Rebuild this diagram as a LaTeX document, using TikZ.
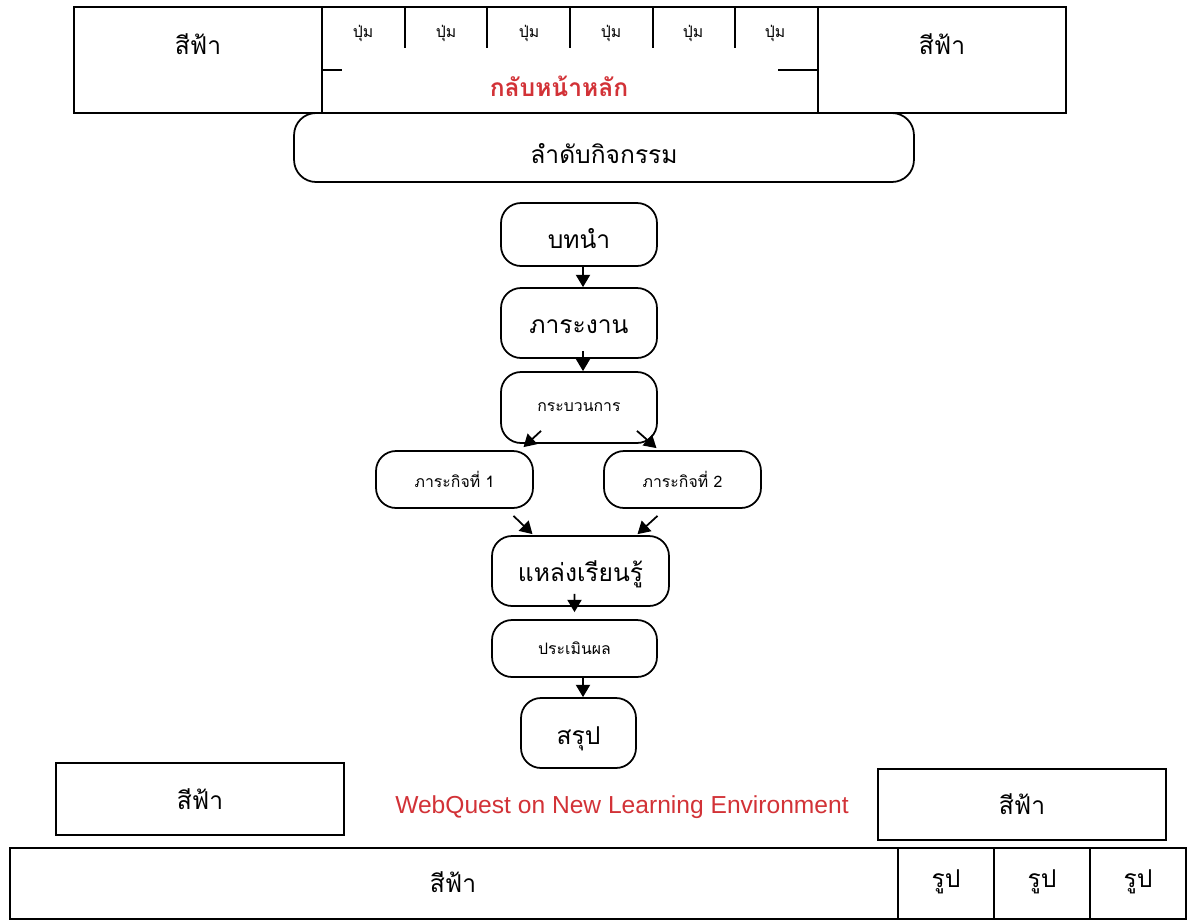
\documentclass[tikz,border=0pt]{standalone}
\usepackage{fontspec}
\setmainfont{Liberation Sans}
\newfontfamily\thai[Script=Thai]{Loma}
\usetikzlibrary{arrows.meta}
\definecolor{webred}{RGB}{210,50,55}
\tikzset{
every picture/.style={
line width=1pt
}}
\tikzset{
big/.style={font=\thai\fontsize{14}{16}\selectfont, inner sep=0pt},
small/.style={font=\thai\fontsize{9}{11}\selectfont, inner sep=0pt},
stage/.style={draw, rounded corners=0.4cm, inner sep=0pt},
lower/.style={text height=#1, text depth=0pt},
arr/.style={-{Triangle[length=7pt,width=8pt]}}
}

\begin{document}
\begin{tikzpicture}[x=0.02cm, y=-0.02cm]
\useasboundingbox (0,0) rectangle (1191,921);

% top bar
\draw (74,7) rectangle (322,113);
\draw (322,7) rectangle (818,113);
\draw (818,7) rectangle (1066,113);
\node[big] (topl) at (198,44) {สีฟ้า};
\node[big] (topr) at (942,44) {สีฟ้า};
\foreach \x in {405, 487, 570, 653, 735}{
  \draw (\x,7) -- (\x,48);
}
\foreach \x [count=\i] in {363, 446, 529, 611, 693, 775}{
  \node[small] (btn\i) at (\x,33) {ปุ่ม};
}
\draw (322,70) -- (342,70);
\draw (778,70) -- (818,70);
\node[text=webred, font=\thai\bfseries\fontsize{14}{16}\selectfont, inner sep=0pt] (home) at (559,86) {กลับหน้าหลัก};

% activity order
\node[draw, rounded corners=0.44cm, minimum width=12.4cm, minimum height=1.38cm, big, lower=18pt] (order) at (604,147.5) {ลำดับกิจกรรม};

% flow
\node[stage, big, lower=16pt, minimum width=3.12cm, minimum height=1.26cm] (intro) at (579,234.5) {บทนำ};
\node[stage, big, lower=12.5pt, minimum width=3.12cm, minimum height=1.4cm] (task) at (579,323) {ภาระงาน};
\node[stage, small, minimum width=3.12cm, minimum height=1.42cm] (process) at (579,407.5) {กระบวนการ};
\node[stage, small, minimum width=3.14cm, minimum height=1.14cm] (m1) at (454.5,479.5) {ภาระกิจที่ 1};
\node[stage, small, minimum width=3.14cm, minimum height=1.14cm] (m2) at (682.5,479.5) {ภาระกิจที่ 2};
\node[stage, big, lower=12pt, minimum width=3.54cm, minimum height=1.4cm] (source) at (580.5,571) {แหล่งเรียนรู้};
\node[stage, small, minimum width=3.3cm, minimum height=1.14cm] (eval) at (574.5,648.5) {ประเมินผล};
\node[stage, big, lower=13.5pt, minimum width=2.3cm, minimum height=1.4cm] (summary) at (578.5,733) {สรุป};

\draw [arr] ([xshift=0.08cm]intro.south) -- ([xshift=0.08cm]task.north);
\draw [arr] ([xshift=0.08cm,yshift=0.16cm]task.south) -- ([xshift=0.08cm]process.north);
\draw [arr] ([xshift=-0.76cm,yshift=0.26cm]process.south) -- ([xshift=1.38cm,yshift=0.06cm]m1.north);
\draw [arr] ([xshift=1.16cm,yshift=0.26cm]process.south) -- ([xshift=-0.52cm,yshift=0.04cm]m2.north);
\draw [arr] ([xshift=1.18cm,yshift=-0.14cm]m1.south) -- ([xshift=-0.96cm,yshift=0.02cm]source.north);
\draw [arr] ([xshift=-0.5cm,yshift=-0.14cm]m2.south) -- ([xshift=1.14cm,yshift=0.02cm]source.north);
\draw [arr] ([xshift=-0.12cm,yshift=0.26cm]source.south) -- ([yshift=0.14cm]eval.north);
\draw [arr] ([xshift=0.17cm]eval.south) -- ([xshift=0.09cm]summary.north);

% bottom
\node[draw, big, minimum width=5.76cm, minimum height=1.44cm] (botl) at (200,799) {สีฟ้า};
\node[draw, big, minimum width=5.76cm, minimum height=1.42cm] (botr) at (1022,804.5) {สีฟ้า};
\node[text=webred, font=\fontsize{14}{16}\selectfont, inner sep=0pt] (title) at (622,807) {WebQuest on New Learning Environment};
\draw (10,848) rectangle (1186,919);
\foreach \x in {898, 994, 1090}{
  \draw (\x,848) -- (\x,919);
}
\node[big] (footer) at (453,882) {สีฟ้า};
\foreach \x [count=\i] in {946, 1042, 1138}{
  \node[big] (pic\i) at (\x,882) {รูป};
}
\end{tikzpicture}
\end{document}
